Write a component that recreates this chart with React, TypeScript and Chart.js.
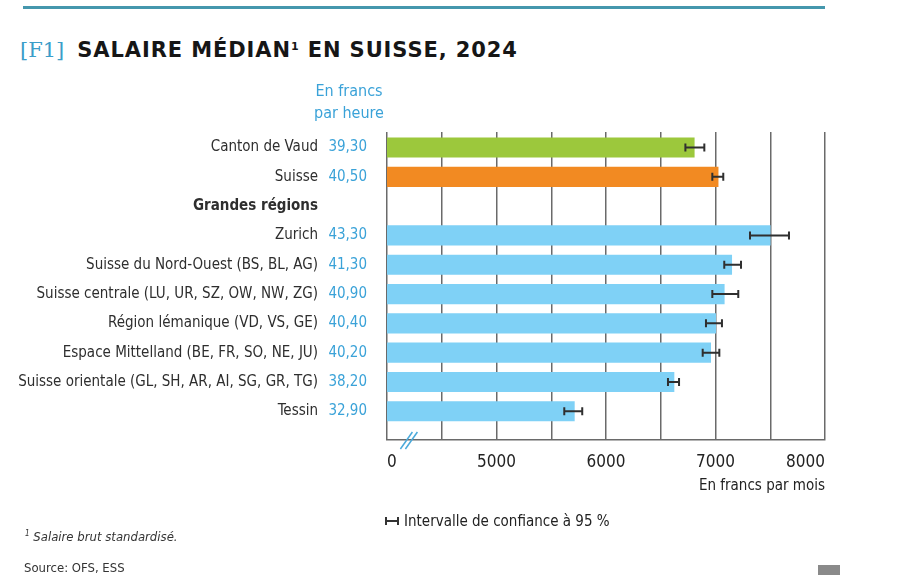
import React, { useEffect, useRef } from "react";
import { Chart, registerables } from "chart.js";

Chart.register(...registerables);

// ---------- data ----------
const categories: string[] = [
  "Canton de Vaud",
  "Suisse",
  "Grandes régions",
  "Zurich",
  "Suisse du Nord-Ouest (BS, BL, AG)",
  "Suisse centrale (LU, UR, SZ, OW, NW, ZG)",
  "Région lémanique (VD, VS, GE)",
  "Espace Mittelland (BE, FR, SO, NE, JU)",
  "Suisse orientale (GL, SH, AR, AI, SG, GR, TG)",
  "Tessin",
];
const hourlyLabels: string[] = ["39,30", "40,50", "", "43,30", "41,30", "40,90", "40,40", "40,20", "38,20", "32,90"];
const monthlyMedian: (number | null)[] = [6806, 7024, null, 7500, 7148, 7080, 7002, 6956, 6621, 5711];
const ciLow: (number | null)[] = [6725, 6971, null, 7315, 7080, 6971, 6913, 6883, 6566, 5619];
const ciHigh: (number | null)[] = [6898, 7071, null, 7671, 7233, 7208, 7059, 7035, 6667, 5783];
const axisMin = 4000; // shown as "0" (broken axis)
const axisMax = 8000;
const axisStep = 500;
const breakAt = 4200;
const labeledTicks: number[] = [5000, 6000, 7000, 8000];

const FONT = "'Liberation Sans Narrow', 'DejaVu Sans Condensed', 'Roboto Condensed', Roboto, sans-serif";
const GREEN = "#9cc83c";
const ORANGE = "#f28a22";
const BLUE = "#7fd1f6";
const TEXT_BLUE = "#3aa2d8";
const GRID = "#6a6a6a";

const barColors = categories.map((_, i) => (i === 0 ? GREEN : i === 1 ? ORANGE : BLUE));

const errorBarPlugin = {
  id: "errorBars",
  afterDatasetsDraw(chart: any) {
    const x = chart.scales.x;
    const y = chart.scales.yHour;
    const ctx = chart.ctx;
    ctx.save();
    ctx.strokeStyle = "#2f2f2f";
    ctx.lineWidth = 2;
    categories.forEach((_, i) => {
      const lo = ciLow[i];
      const hi = ciHigh[i];
      if (lo == null || hi == null) return;
      const x1 = x.getPixelForValue(lo);
      const x2 = x.getPixelForValue(hi);
      const py = y.getPixelForValue(i);
      ctx.beginPath();
      ctx.moveTo(x1, py);
      ctx.lineTo(x2, py);
      ctx.moveTo(x1, py - 4);
      ctx.lineTo(x1, py + 4);
      ctx.moveTo(x2, py - 4);
      ctx.lineTo(x2, py + 4);
      ctx.stroke();
    });
    ctx.restore();
  },
  afterDraw(chart: any) {
    const x = chart.scales.x;
    const ctx = chart.ctx;
    const cx = x.getPixelForValue(breakAt);
    const by = chart.chartArea.bottom;
    ctx.save();
    ctx.strokeStyle = "#4aa9da";
    ctx.lineWidth = 1.5;
    [-2.5, 2.5].forEach((dx) => {
      ctx.beginPath();
      ctx.moveTo(cx + dx - 6, by + 9);
      ctx.lineTo(cx + dx + 6, by - 8);
      ctx.stroke();
    });
    ctx.restore();
  },
};

function ChartCanvas() {
  const ref = useRef<HTMLCanvasElement | null>(null);
  useEffect(() => {
    if (!ref.current) return;
    const idxTicks = (scale: any) => {
      scale.ticks = categories.map((_, i) => ({ value: i }));
    };
    const chart = new Chart(ref.current, {
      type: "bar",
      data: {
        datasets: [
          {
            data: categories
              .map((_, i) => (monthlyMedian[i] == null ? null : { x: monthlyMedian[i] as number, y: i }))
              .filter((d) => d !== null) as any,
            backgroundColor: categories
              .map((_, i) => (monthlyMedian[i] == null ? null : barColors[i]))
              .filter((c) => c !== null) as any,
            borderWidth: 0,
            barThickness: 19.5,
            yAxisID: "yHour",
            xAxisID: "x",
          },
        ],
      },
      plugins: [errorBarPlugin],
      options: {
        indexAxis: "y",
        animation: false,
        responsive: false,
        maintainAspectRatio: false,
        events: [],
        layout: { padding: { left: 0, right: 78, top: 132, bottom: 75 } },
        plugins: { legend: { display: false }, tooltip: { enabled: false }, title: { display: false } },
        scales: {
          x: {
            type: "linear",
            position: "bottom",
            min: axisMin,
            max: axisMax,
            grid: { color: GRID, lineWidth: 1.5, drawTicks: false },
            border: { display: true, color: GRID, width: 1.5 },
            ticks: {
              stepSize: axisStep,
              autoSkip: false,
              maxRotation: 0,
              align: "inner",
              padding: 12,
              color: "#222",
              font: { family: FONT, size: 17 },
              callback: (v: any) => (v === axisMin ? "0" : labeledTicks.includes(v) ? String(v) : ""),
            },
            title: {
              display: true,
              text: "En francs par mois",
              align: "end",
              color: "#222",
              font: { family: FONT, size: 15 },
              padding: { top: 0, bottom: 5 },
            },
            afterFit: (s: any) => {
              s.height = 60;
            },
          },
          yHour: {
            type: "linear",
            position: "left",
            reverse: true,
            offset: false,
            bounds: "data",
            min: -0.53,
            max: 9.98,
            weight: 1,
            grid: { display: false, drawTicks: false },
            border: { display: false },
            afterBuildTicks: idxTicks,
            ticks: {
              padding: 20,
              color: TEXT_BLUE,
              font: { family: FONT, size: 15 },
              callback: (v: any) => hourlyLabels[v] ?? "",
            },
            afterFit: (s: any) => {
              s.width = 62;
            },
          },
          yName: {
            type: "linear",
            position: "left",
            reverse: true,
            offset: false,
            bounds: "data",
            min: -0.53,
            max: 9.98,
            weight: 10,
            grid: { display: false, drawTicks: false },
            border: { display: false },
            afterBuildTicks: idxTicks,
            ticks: {
              padding: 7,
              color: "#2e2e2e",
              font: (c: any) => ({
                family: FONT,
                size: 15,
                weight: c.tick && c.tick.value === 2 ? "bold" : "normal",
              }),
              callback: (v: any) => categories[v] ?? "",
            },
            afterFit: (s: any) => {
              s.width = 325;
            },
          },
        },
      } as any,
    });
    return () => chart.destroy();
  }, []);
  return <canvas ref={ref} width={903} height={575} style={{ position: "absolute", left: 0, top: 0, width: 903, height: 575 }} />;
}

export default function App() {
  return (
    <div style={{ position: "fixed", left: 0, top: 0, width: 903, height: 575, background: "#fff", overflow: "hidden", fontFamily: FONT }}>
      <div style={{ position: "absolute", left: 23, top: 6, width: 802, height: 3, background: "#4597ad" }} />
      <div style={{ position: "absolute", left: 20, top: 36, whiteSpace: "nowrap", lineHeight: "28px" }}>
        <span style={{ fontFamily: "'DejaVu Serif', 'Liberation Serif', serif", color: "#3b9dc9", fontSize: 21 }}>[F1]</span>
        <span
          style={{
            fontFamily: "'DejaVu Sans', 'Liberation Sans', Arial, sans-serif",
            fontWeight: 900,
            fontSize: 21,
            letterSpacing: 0.9,
            color: "#161616",
            marginLeft: 13,
          }}
        >
          SALAIRE MÉDIAN<sup style={{ fontSize: 11, verticalAlign: "top", position: "relative", top: -3 }}>1</sup> EN SUISSE, 2024
        </span>
      </div>
      <ChartCanvas />
      <div style={{ position: "absolute", left: 299, width: 100, top: 80, textAlign: "center", color: TEXT_BLUE, fontSize: 16, lineHeight: "22px" }}>
        En francs
        <br />
        par heure
      </div>
      <div style={{ position: "absolute", left: 385, top: 512, color: "#222", fontSize: 15, whiteSpace: "nowrap", display: "flex", alignItems: "center" }}>
        <span
          style={{
            display: "inline-block",
            width: 10,
            height: 8,
            borderLeft: "2px solid #333",
            borderRight: "2px solid #333",
            background: "linear-gradient(#333, #333) center / 100% 2px no-repeat",
            marginRight: 5,
          }}
        />
        Intervalle de confiance à 95 %
      </div>
      <div style={{ position: "absolute", left: 25, top: 529, color: "#333", fontSize: 13, fontStyle: "italic", whiteSpace: "nowrap" }}>
        <sup style={{ fontSize: 8 }}>1</sup> Salaire brut standardisé.
      </div>
      <div style={{ position: "absolute", left: 24, top: 560, color: "#333", fontSize: 13, whiteSpace: "nowrap" }}>Source: OFS, ESS</div>
      <div style={{ position: "absolute", left: 818, top: 565, width: 22, height: 12, background: "#8a8a8a" }} />
    </div>
  );
}
